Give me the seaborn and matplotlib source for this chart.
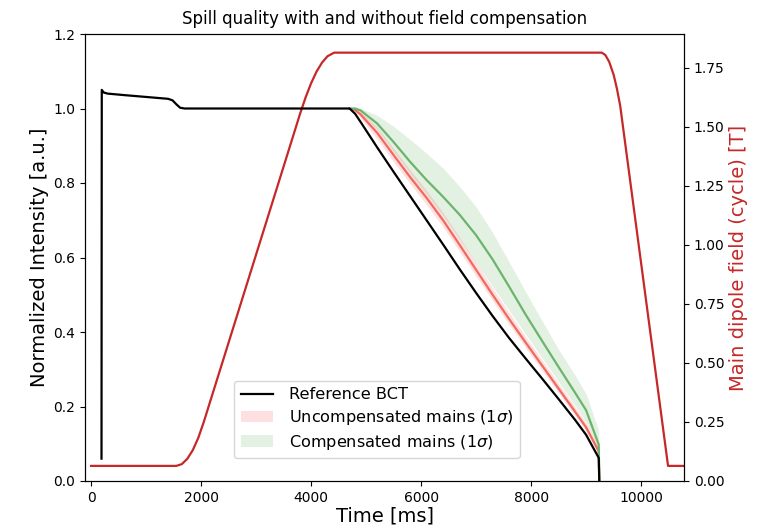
import numpy as np
import pandas as pd
import matplotlib
matplotlib.use("Agg")
import matplotlib.pyplot as plt
import seaborn as sns

# ---------------- data ----------------
# Reference BCT (normalized intensity)
bct_t = [190, 195, 230, 300, 600, 1000, 1400, 1480, 1560, 1620, 1700,
         4700, 4800, 4900, 5200, 5500, 5800, 6100, 6400, 6700, 7000, 7300, 7600,
         7900, 8200, 8500, 8800, 9000, 9230, 9240]
bct_i = [0.060, 1.050, 1.043, 1.040, 1.036, 1.031, 1.026, 1.022, 1.010, 1.002, 1.000,
         1.000, 0.986, 0.964, 0.896, 0.830, 0.765, 0.700, 0.635, 0.569, 0.505, 0.443, 0.384,
         0.329, 0.275, 0.220, 0.164, 0.124, 0.062, 0.000]

# Spill time grid for compensated / uncompensated mains
spill_t = [4700, 4800, 4900, 5200, 5500, 5800, 6100, 6400, 6700, 7000, 7300, 7600,
           7900, 8200, 8500, 8800, 9000, 9230, 9240]

unc_mean = [1.000, 0.996, 0.984, 0.935, 0.875, 0.816, 0.760, 0.700, 0.634, 0.567, 0.500, 0.435,
            0.372, 0.310, 0.248, 0.186, 0.144, 0.080, 0.000]
unc_lo = [1.000, 0.992, 0.975, 0.918, 0.857, 0.798, 0.742, 0.682, 0.616, 0.550, 0.484, 0.420,
          0.358, 0.297, 0.236, 0.175, 0.134, 0.068, 0.000]
unc_hi = [1.000, 0.999, 0.992, 0.950, 0.893, 0.835, 0.780, 0.720, 0.654, 0.586, 0.518, 0.452,
          0.388, 0.325, 0.262, 0.199, 0.156, 0.092, 0.000]

comp_mean = [1.000, 1.000, 0.995, 0.960, 0.910, 0.857, 0.808, 0.763, 0.715, 0.660, 0.595, 0.522,
             0.447, 0.376, 0.306, 0.237, 0.190, 0.098, 0.000]
comp_lo = [1.000, 0.997, 0.988, 0.945, 0.885, 0.826, 0.770, 0.712, 0.649, 0.586, 0.522, 0.458,
           0.394, 0.330, 0.266, 0.202, 0.158, 0.088, 0.000]
comp_hi = [1.000, 1.000, 1.000, 0.982, 0.952, 0.917, 0.880, 0.840, 0.791, 0.736, 0.667, 0.588,
           0.508, 0.430, 0.353, 0.284, 0.234, 0.135, 0.000]

# Main dipole field over the cycle [T]
field_t = [0, 1550, 1650, 1750, 1850, 1950, 2050, 2500, 3000, 3500, 3800,
           3900, 4000, 4100, 4200, 4300, 4420, 9285, 9350, 9420, 9500, 9560, 9620,
           10490, 10780]
field_b = [0.064, 0.064, 0.0715, 0.094, 0.131, 0.183, 0.2505, 0.586, 0.959, 1.332, 1.556,
           1.625, 1.685, 1.735, 1.773, 1.800, 1.815, 1.815, 1.805, 1.776, 1.722, 1.663, 1.590,
           0.064, 0.064]

# ---------------- plot ----------------
W, H = 764, 526
fig = plt.figure(figsize=(W / 100, H / 100), dpi=100)
ax = fig.add_axes([85 / W, 1 - 481 / H, (684 - 85) / W, (481 - 34) / H])
ax2 = ax.twinx()

red_line = "#c62828"

df_field = pd.DataFrame({"t": field_t, "b": field_b})
sns.lineplot(data=df_field, x="t", y="b", ax=ax2, color=red_line, lw=1.6,
             sort=False, estimator=None)

df_unc = pd.DataFrame({"t": spill_t, "m": unc_mean})
df_comp = pd.DataFrame({"t": spill_t, "m": comp_mean})
df_bct = pd.DataFrame({"t": bct_t, "i": bct_i})

ax.fill_between(spill_t, unc_lo, unc_hi, color="red", alpha=0.12, lw=0,
                label="Uncompensated mains (1$\\sigma$)")
ax.fill_between(spill_t, comp_lo, comp_hi, color="green", alpha=0.11, lw=0,
                label="Compensated mains (1$\\sigma$)")
sns.lineplot(data=df_unc, x="t", y="m", ax=ax, color="#f06a5e", lw=1.6,
             sort=False, estimator=None)
sns.lineplot(data=df_comp, x="t", y="m", ax=ax, color="#6cb46c", lw=1.6,
             sort=False, estimator=None)
sns.lineplot(data=df_bct, x="t", y="i", ax=ax, color="black", lw=1.6,
             sort=False, estimator=None, label="Reference BCT")

ax.set_zorder(ax2.get_zorder() + 1)
ax.patch.set_visible(False)

ax.set_xlim(-110, 10780)
ax.set_ylim(0, 1.2)
ax2.set_ylim(0, 1.894)
ax.set_xticks([0, 2000, 4000, 6000, 8000, 10000])
ax.set_yticks([0.0, 0.2, 0.4, 0.6, 0.8, 1.0, 1.2])
ax2.set_yticks([0.0, 0.25, 0.5, 0.75, 1.0, 1.25, 1.5, 1.75])
ax2.set_yticklabels(["0.00", "0.25", "0.50", "0.75", "1.00", "1.25", "1.50", "1.75"])

ax.set_xlabel("Time [ms]", fontsize=14, labelpad=1)
ax.set_ylabel("Normalized Intensity [a.u.]", fontsize=14, labelpad=3)
ax2.set_ylabel("Main dipole field (cycle) [T]", fontsize=14, color=red_line, labelpad=3)
ax.set_title("Spill quality with and without field compensation", fontsize=12, pad=7)

handles, labels = ax.get_legend_handles_labels()
order = [labels.index("Reference BCT"),
         labels.index("Uncompensated mains (1$\\sigma$)"),
         labels.index("Compensated mains (1$\\sigma$)")]
ax.legend([handles[i] for i in order], [labels[i] for i in order],
          loc="lower left", bbox_to_anchor=(0.249, 0.051), borderaxespad=0,
          fontsize=11.6, labelspacing=0.35, handletextpad=1.0)

fig.savefig("out.png", dpi=100)
